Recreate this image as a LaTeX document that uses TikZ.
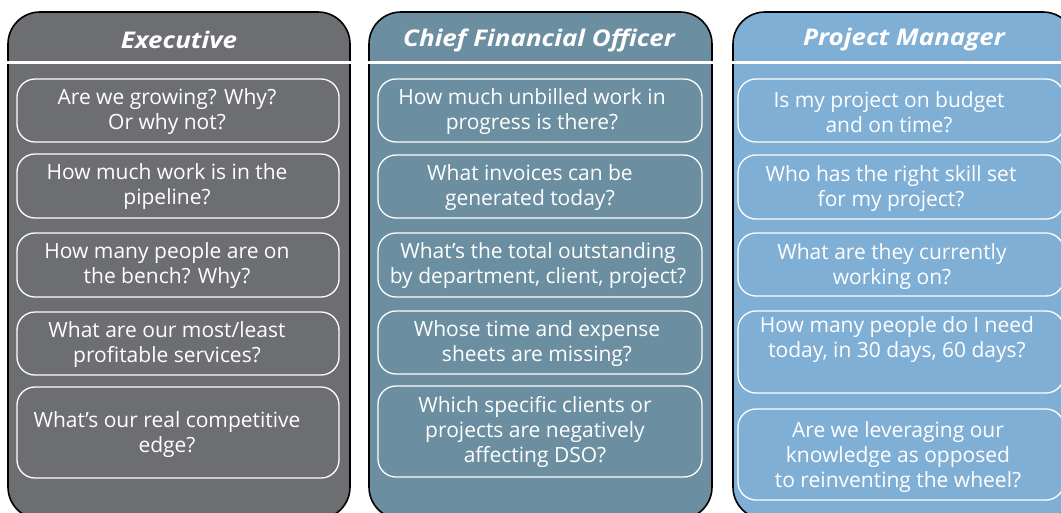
\documentclass[tikz,border=0pt]{standalone}
\usepackage{fontspec}
\setmainfont{Open Sans}
\newfontfamily\ttlfont[FakeStretch=1.13]{Open Sans}
\definecolor{cexec}{RGB}{109,110,113}
\definecolor{ccfo}{RGB}{107,143,161}
\definecolor{cpm}{RGB}{128,175,214}
\begin{document}
\begin{tikzpicture}[x=1pt,y=-1pt,
  col/.style={draw=black, line width=1.6pt, rounded corners=32pt},
  sep/.style={draw=white, line width=3pt},
  qbox/.style={draw=white, line width=1.3pt, rounded corners=18pt, inner sep=0pt},
  qtext/.style={text=white, align=center, inner sep=0pt, yshift=-2pt, font=\fontsize{21}{25}\selectfont},
  ttl/.style={text=white, inner sep=0pt, font=\ttlfont\fontsize{23}{25}\selectfont\bfseries\itshape}]
\useasboundingbox (0,0) rectangle (1061,512);
\clip (0,0) rectangle (1061,512);
% columns
\draw[col, fill=cexec] (8,12) rectangle (350,519);
\draw[col, fill=ccfo] (369,12) rectangle (712,519);
\draw[col, fill=cpm] (733,12) rectangle (1075,519);
\coordinate (s1a) at (6,62); \coordinate (s1b) at (352,62);
\coordinate (s2a) at (367,62); \coordinate (s2b) at (714,62);
\coordinate (s3a) at (731,62); \coordinate (s3b) at (1077,62);
\draw[sep] (s1a) -- (s1b);
\draw[sep] (s2a) -- (s2b);
\draw[sep] (s3a) -- (s3b);
% titles
\node[ttl] (t1) at (179,40) {Executive};
\node[ttl] (t2) at (539,40) {Chief Financial Officer};
\node[ttl] (t3) at (904,40) {Project Manager};
% executive boxes
\node[qbox, minimum width=322pt, minimum height=63pt] (e1) at (178,110.5) {};
\node[qbox, minimum width=322pt, minimum height=64pt] (e2) at (178,186) {};
\node[qbox, minimum width=322pt, minimum height=64pt] (e3) at (178,265) {};
\node[qbox, minimum width=322pt, minimum height=63pt] (e4) at (178,343.5) {};
\node[qbox, minimum width=322pt, minimum height=91pt] (e5) at (178,432.5) {};
\node[qtext] (et1) at (167,110) {Are we growing? Why?\\Or why not?};
\node[qtext] (et2) at (167,185) {How much work is in the\\pipeline?};
\node[qtext] (et3) at (167,264) {How many people are on\\the bench? Why?};
\node[qtext] (et4) at (167,342.5) {What are our most/least\\profitable services?};
\node[qtext] (et5) at (167,433) {What’s our real competitive\\edge?};
% cfo boxes
\node[qbox, minimum width=324pt, minimum height=63pt] (c1) at (540,110.5) {};
\node[qbox, minimum width=324pt, minimum height=63pt] (c2) at (540,186.5) {};
\node[qbox, minimum width=324pt, minimum height=64pt] (c3) at (540,265) {};
\node[qbox, minimum width=324pt, minimum height=63pt] (c4) at (540,342.5) {};
\node[qbox, minimum width=324pt, minimum height=91pt] (c5) at (540,431.5) {};
\node[qtext] (ct1) at (532,110) {How much unbilled work in\\progress is there?};
\node[qtext] (ct2) at (530,185.5) {What invoices can be\\generated today?};
\node[qtext] (ct3) at (538,264) {What’s the total outstanding\\by department, client, project?};
\node[qtext] (ct4) at (537,342) {Whose time and expense\\sheets are missing?};
\node[qtext] (ct5) at (535,429.5) {Which specific clients or\\projects are negatively\\affecting DSO?};
% pm boxes
\node[qbox, minimum width=326pt, minimum height=63pt] (p1) at (901,110.5) {};
\node[qbox, minimum width=326pt, minimum height=64pt] (p2) at (901,187) {};
\node[qbox, minimum width=326pt, minimum height=63pt] (p3) at (901,264.5) {};
\node[qbox, minimum width=326pt, minimum height=82pt] (p4) at (901,352) {};
\node[qbox, minimum width=326pt, minimum height=91pt] (p5) at (901,454.5) {};
\node[qtext] (pt1) at (889,110) {Is my project on budget\\and on time?};
\node[qtext] (pt2) at (891,187) {Who has the right skill set\\for my project?};
\node[qtext] (pt3) at (892,265) {What are they currently\\working on?};
\node[qtext] (pt4) at (897,338) {How many people do I need\\today, in 30 days, 60 days?};
\node[qtext] (pt5) at (898,455.5) {Are we leveraging our\\knowledge as opposed\\to reinventing the wheel?};
\end{tikzpicture}
\end{document}
